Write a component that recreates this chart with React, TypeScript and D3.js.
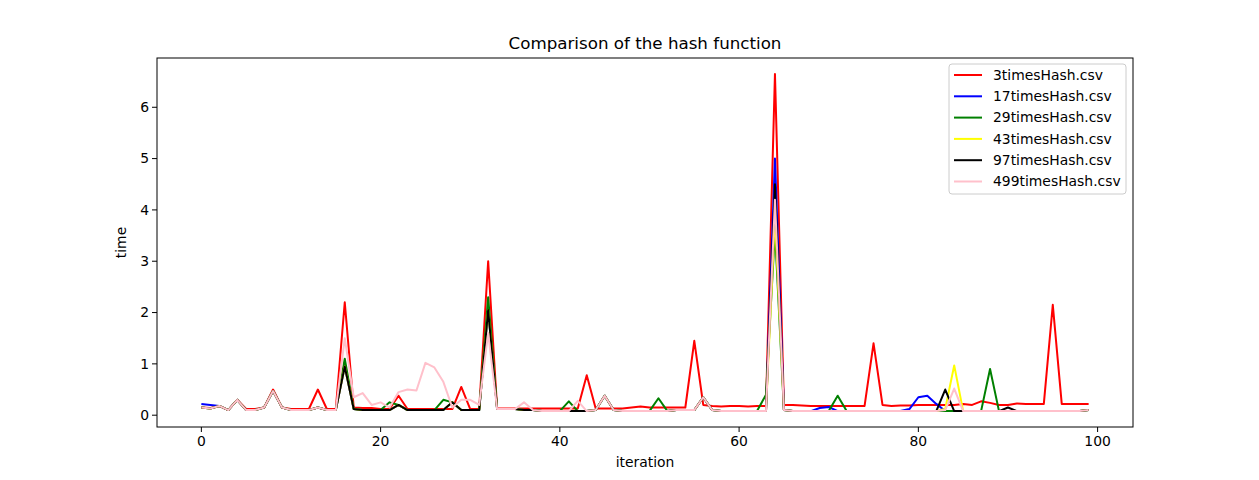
import * as d3 from "d3";

const iterations = d3.range(100);

// shared low-level timing most series sit on
const baseTimes = [
  0.15, 0.13, 0.18, 0.1, 0.3, 0.1, 0.1, 0.15, 0.47, 0.15,
  0.1, 0.1, 0.1, 0.15, 0.1, 0.1, 0.95, 0.12, 0.1, 0.1,
  0.1, 0.1, 0.2, 0.1, 0.1, 0.1, 0.1, 0.1, 0.25, 0.1,
  0.1, 0.1, 2.05, 0.12, 0.12, 0.12, 0.1, 0.1, 0.08, 0.08,
  0.08, 0.08, 0.08, 0.08, 0.1, 0.38, 0.1, 0.08, 0.08, 0.08,
  0.08, 0.08, 0.08, 0.1, 0.1, 0.1, 0.35, 0.1, 0.08, 0.08,
  0.08, 0.08, 0.08, 0.08, 4.5, 0.1, 0.08, 0.08, 0.08, 0.08,
  0.08, 0.08, 0.08, 0.08, 0.08, 0.08, 0.08, 0.08, 0.08, 0.08,
  0.08, 0.08, 0.08, 0.08, 0.08, 0.08, 0.08, 0.08, 0.08, 0.08,
  0.08, 0.08, 0.08, 0.08, 0.08, 0.08, 0.08, 0.08, 0.08, 0.1,
];

const redTimes = [
  0.15, 0.14, 0.18, 0.1, 0.3, 0.12, 0.12, 0.15, 0.5, 0.15,
  0.12, 0.12, 0.12, 0.5, 0.12, 0.12, 2.2, 0.15, 0.14, 0.14,
  0.12, 0.12, 0.38, 0.12, 0.12, 0.12, 0.12, 0.12, 0.12, 0.55,
  0.12, 0.12, 3.0, 0.13, 0.13, 0.13, 0.13, 0.13, 0.13, 0.13,
  0.13, 0.13, 0.13, 0.78, 0.13, 0.13, 0.13, 0.13, 0.15, 0.17,
  0.15, 0.15, 0.15, 0.15, 0.15, 1.45, 0.2, 0.18, 0.17, 0.18,
  0.18, 0.17, 0.18, 0.18, 6.65, 0.2, 0.2, 0.19, 0.18, 0.18,
  0.18, 0.18, 0.18, 0.18, 0.18, 1.4, 0.2, 0.18, 0.19, 0.19,
  0.2, 0.2, 0.2, 0.2, 0.2, 0.22, 0.2, 0.27, 0.24, 0.2,
  0.2, 0.23, 0.22, 0.22, 0.22, 2.15, 0.22, 0.22, 0.22, 0.22,
];

const blueOverrides: Record<number, number> = { 0: 0.22, 1: 0.2, 64: 5.0, 69: 0.14, 70: 0.16, 79: 0.12, 80: 0.35, 81: 0.38, 82: 0.22 };
const greenOverrides: Record<number, number> = { 16: 1.1, 21: 0.25, 27: 0.3, 32: 2.3, 41: 0.27, 51: 0.33, 63: 0.4, 64: 3.6, 71: 0.38, 88: 0.9, 83: 0.08 };
const yellowOverrides: Record<number, number> = { 64: 3.9, 84: 0.97, 83: 0.12 };
const blackOverrides: Record<number, number> = { 83: 0.5, 90: 0.15 };
const pinkOverrides: Record<number, number> = {
  16: 1.5, 17: 0.35, 18: 0.43, 19: 0.2, 20: 0.25, 21: 0.15, 22: 0.45, 23: 0.5, 24: 0.48,
  25: 1.02, 26: 0.93, 27: 0.65, 28: 0.15, 29: 0.3, 30: 0.3, 31: 0.2, 32: 1.6, 36: 0.25,
  42: 0.28, 64: 4.2, 84: 0.52, 83: 0.1,
};

const withOverrides = (o: Record<number, number>) => baseTimes.map((v, i) => (i in o ? o[i] : v));

const seriesNames = ["3timesHash.csv", "17timesHash.csv", "29timesHash.csv", "43timesHash.csv", "97timesHash.csv", "499timesHash.csv"];
const seriesColors = ["red", "blue", "green", "yellow", "black", "pink"];
const seriesValues = [
  redTimes,
  withOverrides(blueOverrides),
  withOverrides(greenOverrides),
  withOverrides(yellowOverrides),
  withOverrides(blackOverrides),
  withOverrides(pinkOverrides),
];
// draw order: pink under? matplotlib draws in order, last on top
const xTicks = [0, 20, 40, 60, 80, 100];
const yTicks = [0, 1, 2, 3, 4, 5, 6];

const W = 1259;
const H = 480;
const M = { left: 157, right: 126, top: 58, bottom: 53 };
const FONT = "DejaVu Sans, sans-serif";

export default function App() {
  const innerW = W - M.left - M.right;
  const innerH = H - M.top - M.bottom;
  const x = d3.scaleLinear().domain([-4.95, 103.95]).range([0, innerW]);
  const y = d3.scaleLinear().domain([-0.23, 6.96]).range([innerH, 0]);
  const path = d3.line<number>().x((_, i) => x(iterations[i])).y(d => y(d));

  return (
    <svg width={W} height={H} style={{ position: "absolute", left: 0, top: 0, background: "white" }} fontFamily={FONT}>
      <text x={M.left + innerW / 2} y={49} textAnchor="middle" fontSize={16.7}>Comparison of the hash function</text>
      <g transform={`translate(${M.left},${M.top})`}>
        <clipPath id="c"><rect width={innerW} height={innerH} /></clipPath>
        <g clipPath="url(#c)">
          {seriesValues.map((vals, k) => (
            <path key={k} d={path(vals) ?? ""} fill="none" stroke={seriesColors[k]} strokeWidth={2} strokeLinejoin="round" />
          ))}
        </g>
        <rect width={innerW} height={innerH} fill="none" stroke="black" strokeWidth={1} />
        {xTicks.map(t => (
          <g key={t} transform={`translate(${x(t)},${innerH})`}>
            <line y2={5} stroke="black" />
            <text y={19} textAnchor="middle" fontSize={13.9}>{t}</text>
          </g>
        ))}
        {yTicks.map(t => (
          <g key={t} transform={`translate(0,${y(t)})`}>
            <line x2={-5} stroke="black" />
            <text x={-8} dy="0.35em" textAnchor="end" fontSize={13.9}>{t}</text>
          </g>
        ))}
        <text x={innerW / 2} y={innerH + 40} textAnchor="middle" fontSize={13.9}>iteration</text>
        <text transform={`translate(-31,${innerH / 2}) rotate(-90)`} textAnchor="middle" fontSize={13.9}>time</text>
        <g transform={`translate(${949 - M.left},${64 - M.top})`}>
          <rect width={177} height={130} rx={3} fill="white" fillOpacity={0.8} stroke="#ccc" />
          {seriesNames.map((n, k) => (
            <g key={n} transform={`translate(0,${11 + k * 21.3})`}>
              <line x1={5} x2={33} stroke={seriesColors[k]} strokeWidth={2} />
              <text x={44} dy="0.35em" fontSize={13.9}>{n}</text>
            </g>
          ))}
        </g>
      </g>
    </svg>
  );
}
